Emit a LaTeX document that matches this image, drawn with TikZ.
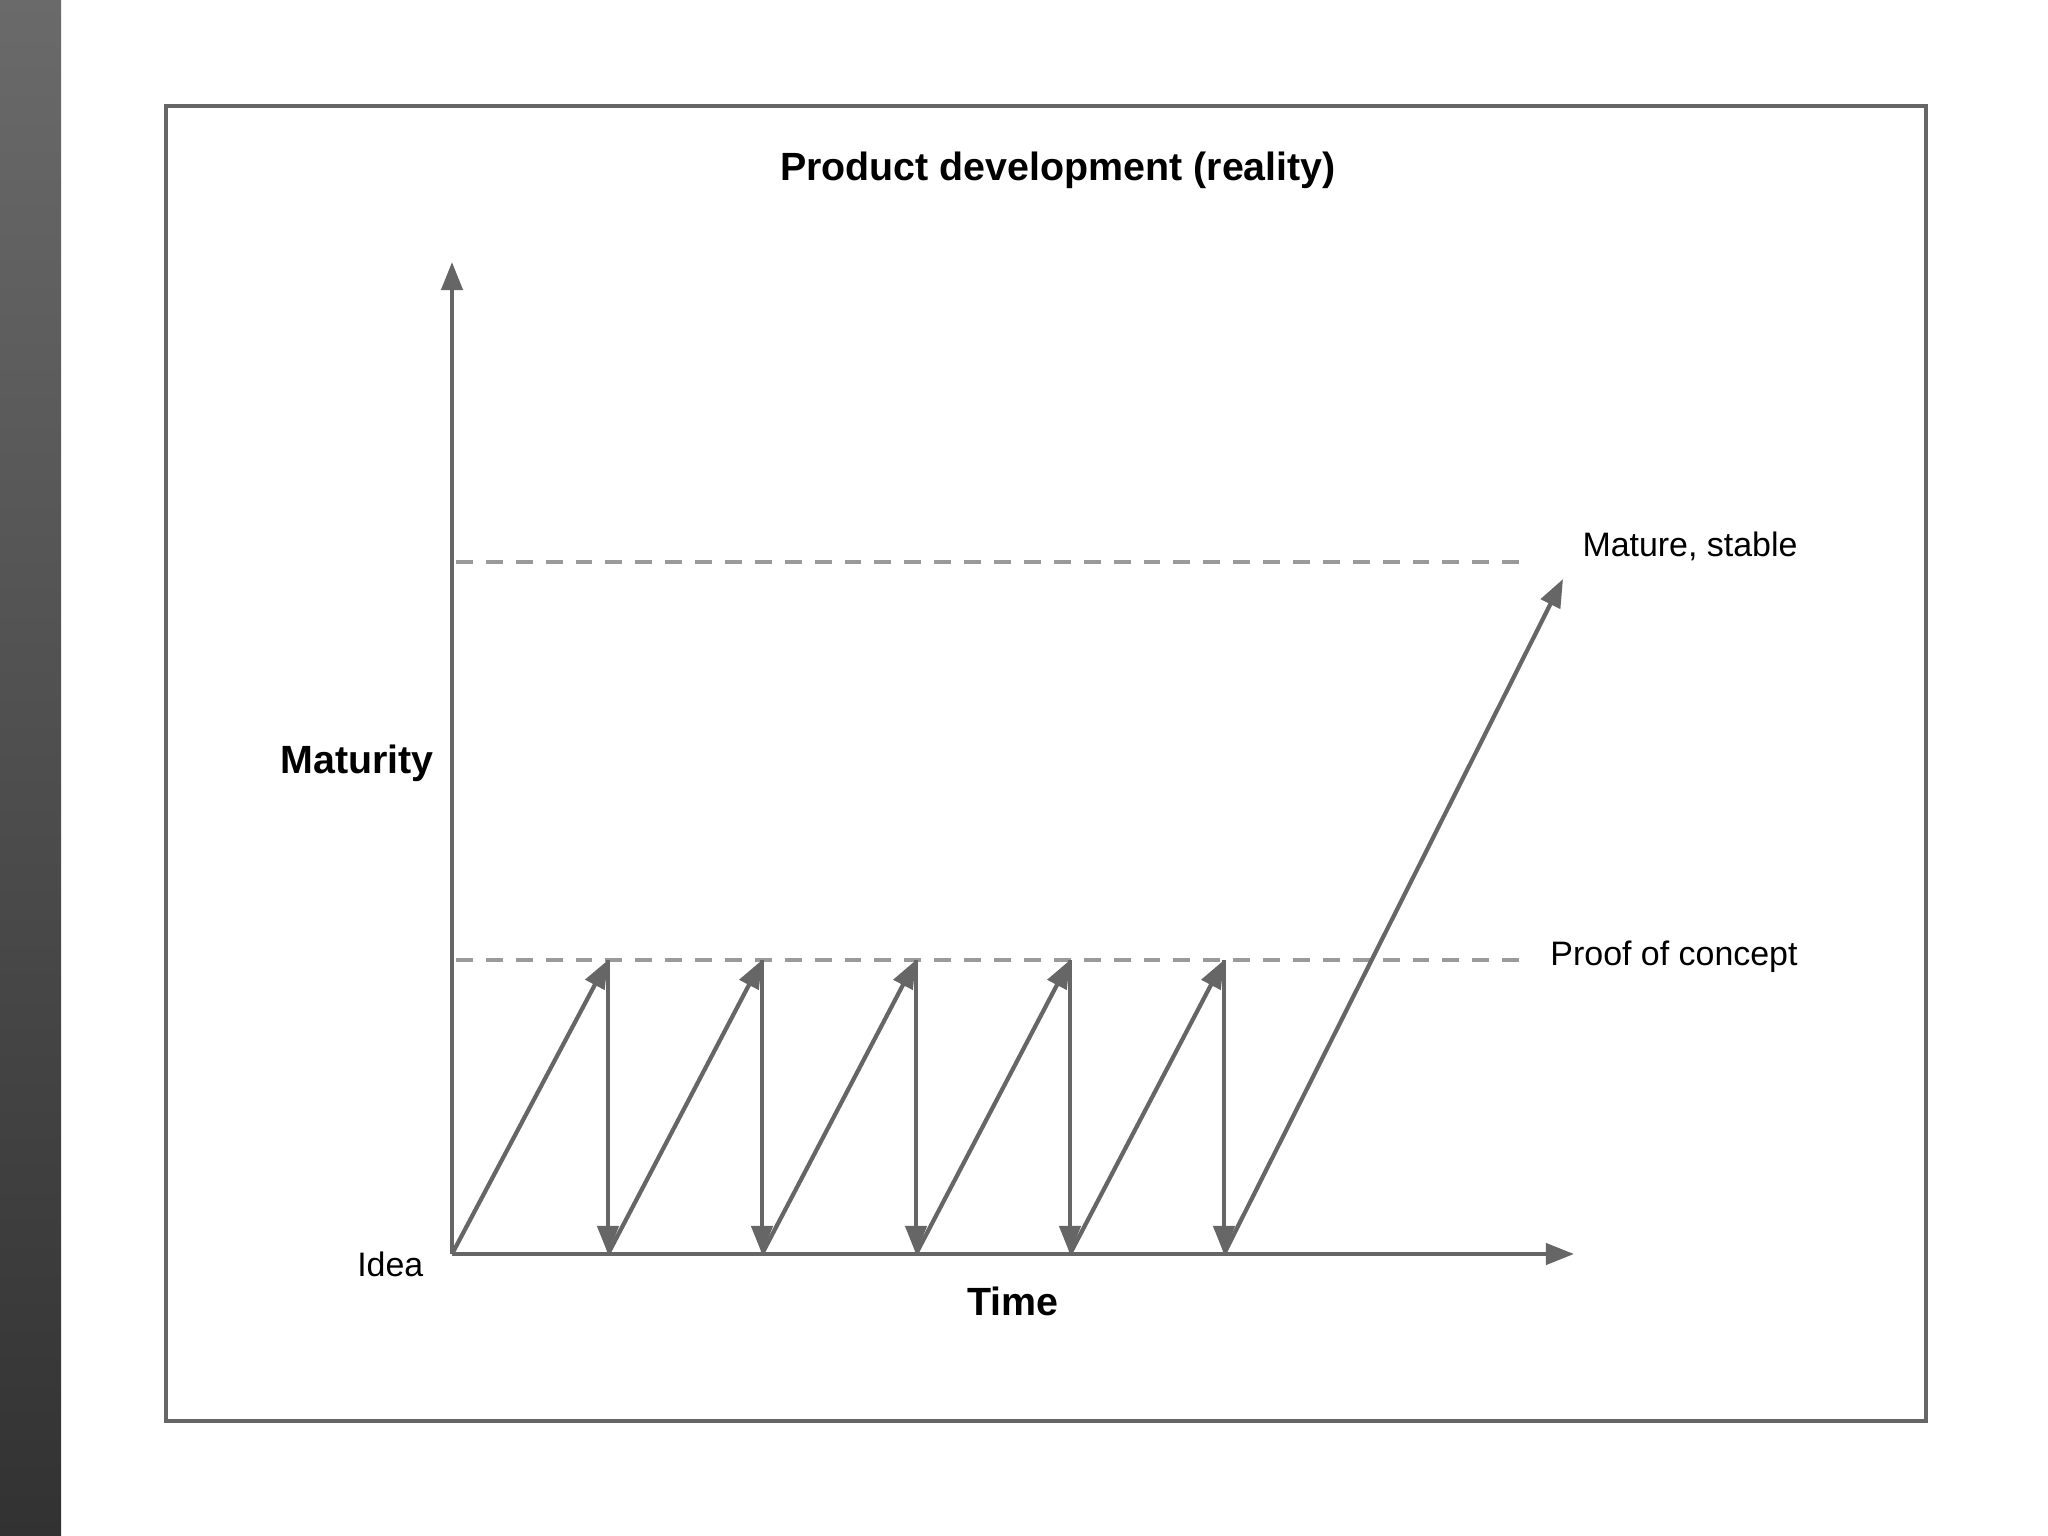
\documentclass[tikz,border=0pt]{standalone}
\usepackage{fontspec}
\setmainfont{Liberation Sans}
\usepackage{tikz}
\usetikzlibrary{arrows.meta}

\definecolor{linegray}{HTML}{666666}
\definecolor{dashgray}{HTML}{9A9A9A}
\definecolor{bartop}{HTML}{6A6A6A}
\definecolor{barbottom}{HTML}{323232}

\begin{document}
\begin{tikzpicture}[x=0.01cm, y=-0.01cm,
    arrowline/.style={draw=linegray, line width=1.2pt, -{Triangle[length=8pt, width=6pt]}, color=linegray},
    levelline/.style={draw=dashgray, line width=1.2pt, dash pattern=on 4.8pt off 3.7pt},
    bigtext/.style={font=\fontsize{11.2}{13}\selectfont\bfseries, inner sep=0pt},
    smalltext/.style={font=\fontsize{9.65}{12}\selectfont, inner sep=0pt}]
            \useasboundingbox (0,0) rectangle (2048,1536);

            % Side bar and frame
            \shade[top color=bartop, bottom color=barbottom] (0,0) rectangle (61,1536);
            \draw[linegray, line width=1.1pt] (166,106) rectangle (1926,1421);

            % Nodes
            \node[bigtext] (title) at (1058,170) {Product development (reality)};
            \node[bigtext] (maturity) at (357,763) {Maturity};
            \node[bigtext] (time) at (1013,1301) {Time};
            \node[smalltext, anchor=east] (idea) at (424,1264) {Idea};
            \node[smalltext] (stablelabel) at (1690,546) {Mature, stable};
            \node[smalltext] (poclabel) at (1674,957) {Proof of concept};

            % Points on the time axis and on the proof of concept level
            \foreach \i in {0,...,5} {
                \coordinate (b\i) at ({454+154*\i},1254);
                \coordinate (t\i) at ({454+154*\i},960);
            }
            \coordinate (b0) at (452,1254);
            \coordinate (ytop) at (452,262);
            \coordinate (xend) at (1574,1254);
            \coordinate (stable) at (1563,579);

            % Levels
            \coordinate (pocL) at (456,960);
            \coordinate (pocR) at (1521,960);
            \coordinate (matL) at (456,562);
            \coordinate (matR) at (1521,562);
            \draw[levelline] (matL) -- (matR);
            \draw[levelline] (pocL) -- (pocR);

            % Axes
            \draw[arrowline] (b0) -- (ytop);
            \draw[arrowline] (b0) -- (xend);

            % Edges
            \foreach \i in {1,...,5} {
                \pgfmathtruncatemacro{\p}{\i-1}
                \draw[arrowline] (b\p) -- (t\i);
                \draw[arrowline] (t\i) -- (b\i);
            }
            \draw[arrowline] (b5) -- (stable);
        \end{tikzpicture}
\end{document}
